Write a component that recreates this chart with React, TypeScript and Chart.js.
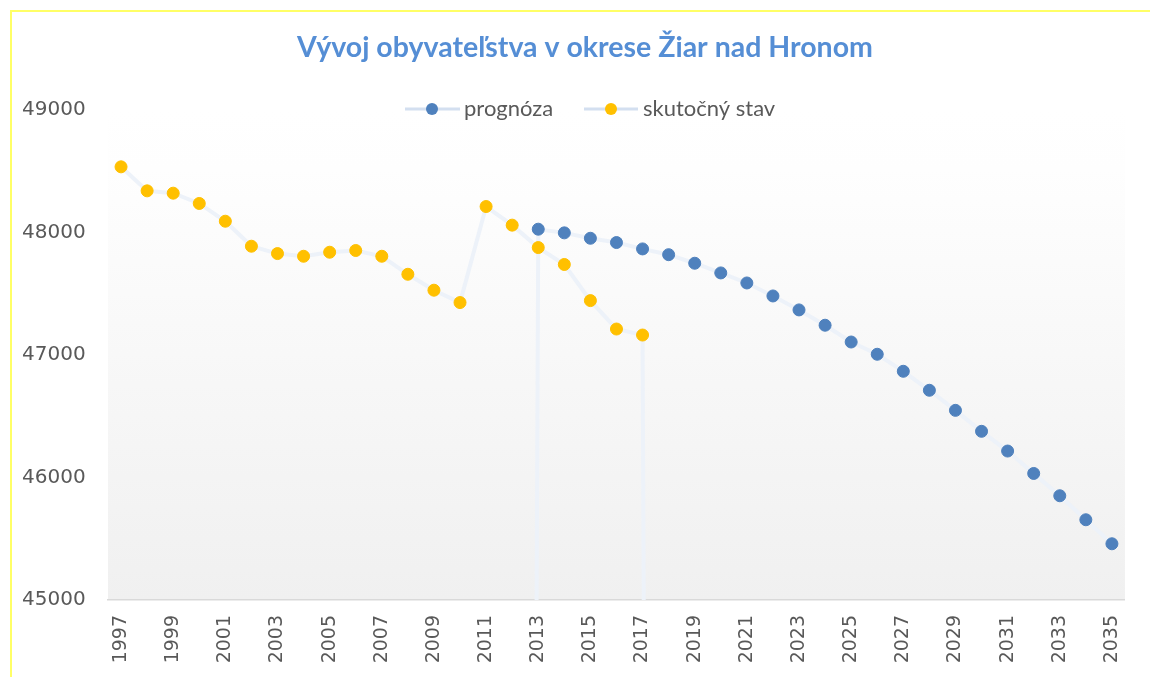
import React, { useEffect, useRef } from 'react';
import { Chart, registerables } from 'chart.js';

Chart.register(...registerables);

const chartTitle = 'Vývoj obyvateľstva v okrese Žiar nad Hronom';
const seriesNames = ['prognóza', 'skutočný stav'];

const years = [
  '1997', '1998', '1999', '2000', '2001', '2002', '2003', '2004', '2005', '2006',
  '2007', '2008', '2009', '2010', '2011', '2012', '2013', '2014', '2015', '2016',
  '2017', '2018', '2019', '2020', '2021', '2022', '2023', '2024', '2025', '2026',
  '2027', '2028', '2029', '2030', '2031', '2032', '2033', '2034', '2035',
];

// prognóza (forecast): zero before 2013, as in the source sheet
const prognoza = [
  0, 0, 0, 0, 0, 0, 0, 0, 0, 0,
  0, 0, 0, 0, 0, 0, 48027, 47997, 47953, 47918,
  47866, 47819, 47749, 47670, 47588, 47482, 47368, 47243, 47106, 47006,
  46867, 46712, 46548, 46377, 46216, 46033, 45851, 45655, 45459,
];

// skutočný stav (actual): zero after 2017, as in the source sheet
const skutocny = [
  48536, 48340, 48321, 48237, 48092, 47888, 47828, 47806, 47839, 47853,
  47806, 47659, 47529, 47428, 48212, 48060, 47877, 47739, 47444, 47212,
  47163, 0, 0, 0, 0, 0, 0, 0, 0, 0,
  0, 0, 0, 0, 0, 0, 0, 0, 0,
];

const yTicks = [45000, 46000, 47000, 48000, 49000];

const BLUE = '#4f81bd';
const GOLD = '#ffc000';
const LINE = '#edf2f9';
const TEXT = '#595959';

const bgPlugin = {
  id: 'plotBg',
  beforeDraw(chart: any) {
    const { ctx, chartArea: a } = chart;
    const g = ctx.createLinearGradient(0, a.top, 0, a.bottom);
    g.addColorStop(0, '#ffffff');
    g.addColorStop(0.12, '#fefefe');
    g.addColorStop(1, '#f0f0f0');
    ctx.save();
    ctx.fillStyle = g;
    ctx.fillRect(a.left, a.top, a.right - a.left, a.bottom - a.top);
    ctx.restore();
  },
};

const headerPlugin = {
  id: 'header',
  afterDraw(chart: any) {
    const { ctx } = chart;
    ctx.save();
    ctx.fillStyle = '#558ed5';
    ctx.font = 'bold 28.5px Lato';
    ctx.textAlign = 'center';
    ctx.textBaseline = 'middle';
    ctx.fillText(chartTitle, 585, 48);

    const items = [
      { x0: 405, x1: 460, cx: 432, tx: 464, color: BLUE, label: seriesNames[0] },
      { x0: 584, x1: 638, cx: 611, tx: 643, color: GOLD, label: seriesNames[1] },
    ];
    const ly = 109;
    ctx.font = '22px Lato';
    ctx.textAlign = 'left';
    for (const it of items) {
      ctx.strokeStyle = '#d3dff0';
      ctx.lineWidth = 3;
      ctx.beginPath();
      ctx.moveTo(it.x0, ly);
      ctx.lineTo(it.x1, ly);
      ctx.stroke();
      ctx.fillStyle = it.color;
      ctx.beginPath();
      ctx.arc(it.cx, ly, 6, 0, Math.PI * 2);
      ctx.fill();
      ctx.fillStyle = TEXT;
      ctx.fillText(it.label, it.tx, ly);
    }
    ctx.restore();
  },
};

export default function App() {
  const ref = useRef<HTMLCanvasElement | null>(null);

  useEffect(() => {
    if (!ref.current) return;
    const chart = new Chart(ref.current, {
      type: 'line',
      data: {
        labels: years,
        datasets: [
          {
            label: seriesNames[0],
            data: prognoza,
            borderColor: LINE,
            borderWidth: 4,
            pointRadius: 6,
            pointBackgroundColor: BLUE,
            pointBorderColor: BLUE,
            pointBorderWidth: 1,
            tension: 0,
            order: 1,
          },
          {
            label: seriesNames[1],
            data: skutocny,
            borderColor: LINE,
            borderWidth: 4,
            pointRadius: 6,
            pointBackgroundColor: GOLD,
            pointBorderColor: GOLD,
            pointBorderWidth: 1,
            tension: 0,
            order: 0,
          },
        ],
      },
      options: {
        animation: false,
        responsive: false,
        layout: { padding: { left: 22, top: 110, right: 22, bottom: 0 } },
        plugins: {
          legend: { display: false },
          title: { display: false },
          tooltip: { enabled: false },
        },
        scales: {
          x: {
            type: 'category',
            offset: true,
            grid: { display: false, drawTicks: false },
            border: { display: true, color: '#d9d9d9', width: 1.5 },
            ticks: {
              autoSkip: false,
              minRotation: 90,
              maxRotation: 90,
              padding: 15,
              color: TEXT,
              font: { family: 'DejaVu Sans', size: 19 },
              callback: (_v: any, i: number) => (i % 2 === 0 ? years[i] : ''),
            },
            afterFit: (s: any) => {
              s.height = 77;
            },
          },
          y: {
            min: 45000,
            max: 49000,
            grid: { display: false },
            border: { display: false },
            afterBuildTicks: (s: any) => {
              s.ticks = yTicks.map((v) => ({ value: v }));
            },
            ticks: {
              crossAlign: 'far',
              color: TEXT,
              font: { family: 'DejaVu Sans', size: 20 },
              callback: (v: any) => String(v),
            },
            afterFit: (s: any) => {
              s.width = 86;
            },
          },
        },
      },
      plugins: [bgPlugin, headerPlugin],
    } as any);
    return () => chart.destroy();
  }, []);

  return (
    <div style={{ position: 'absolute', left: 0, top: 0, width: 1150, height: 677, overflow: 'hidden', background: '#ffffff' }}>
      <div style={{ position: 'absolute', left: 10, top: 10, width: 1140, height: 2, background: '#ffff66' }} />
      <div style={{ position: 'absolute', left: 10, top: 10, width: 2, height: 667, background: '#ffff66' }} />
      <canvas ref={ref} width={1150} height={677} style={{ position: 'absolute', left: 0, top: 0 }} />
    </div>
  );
}
